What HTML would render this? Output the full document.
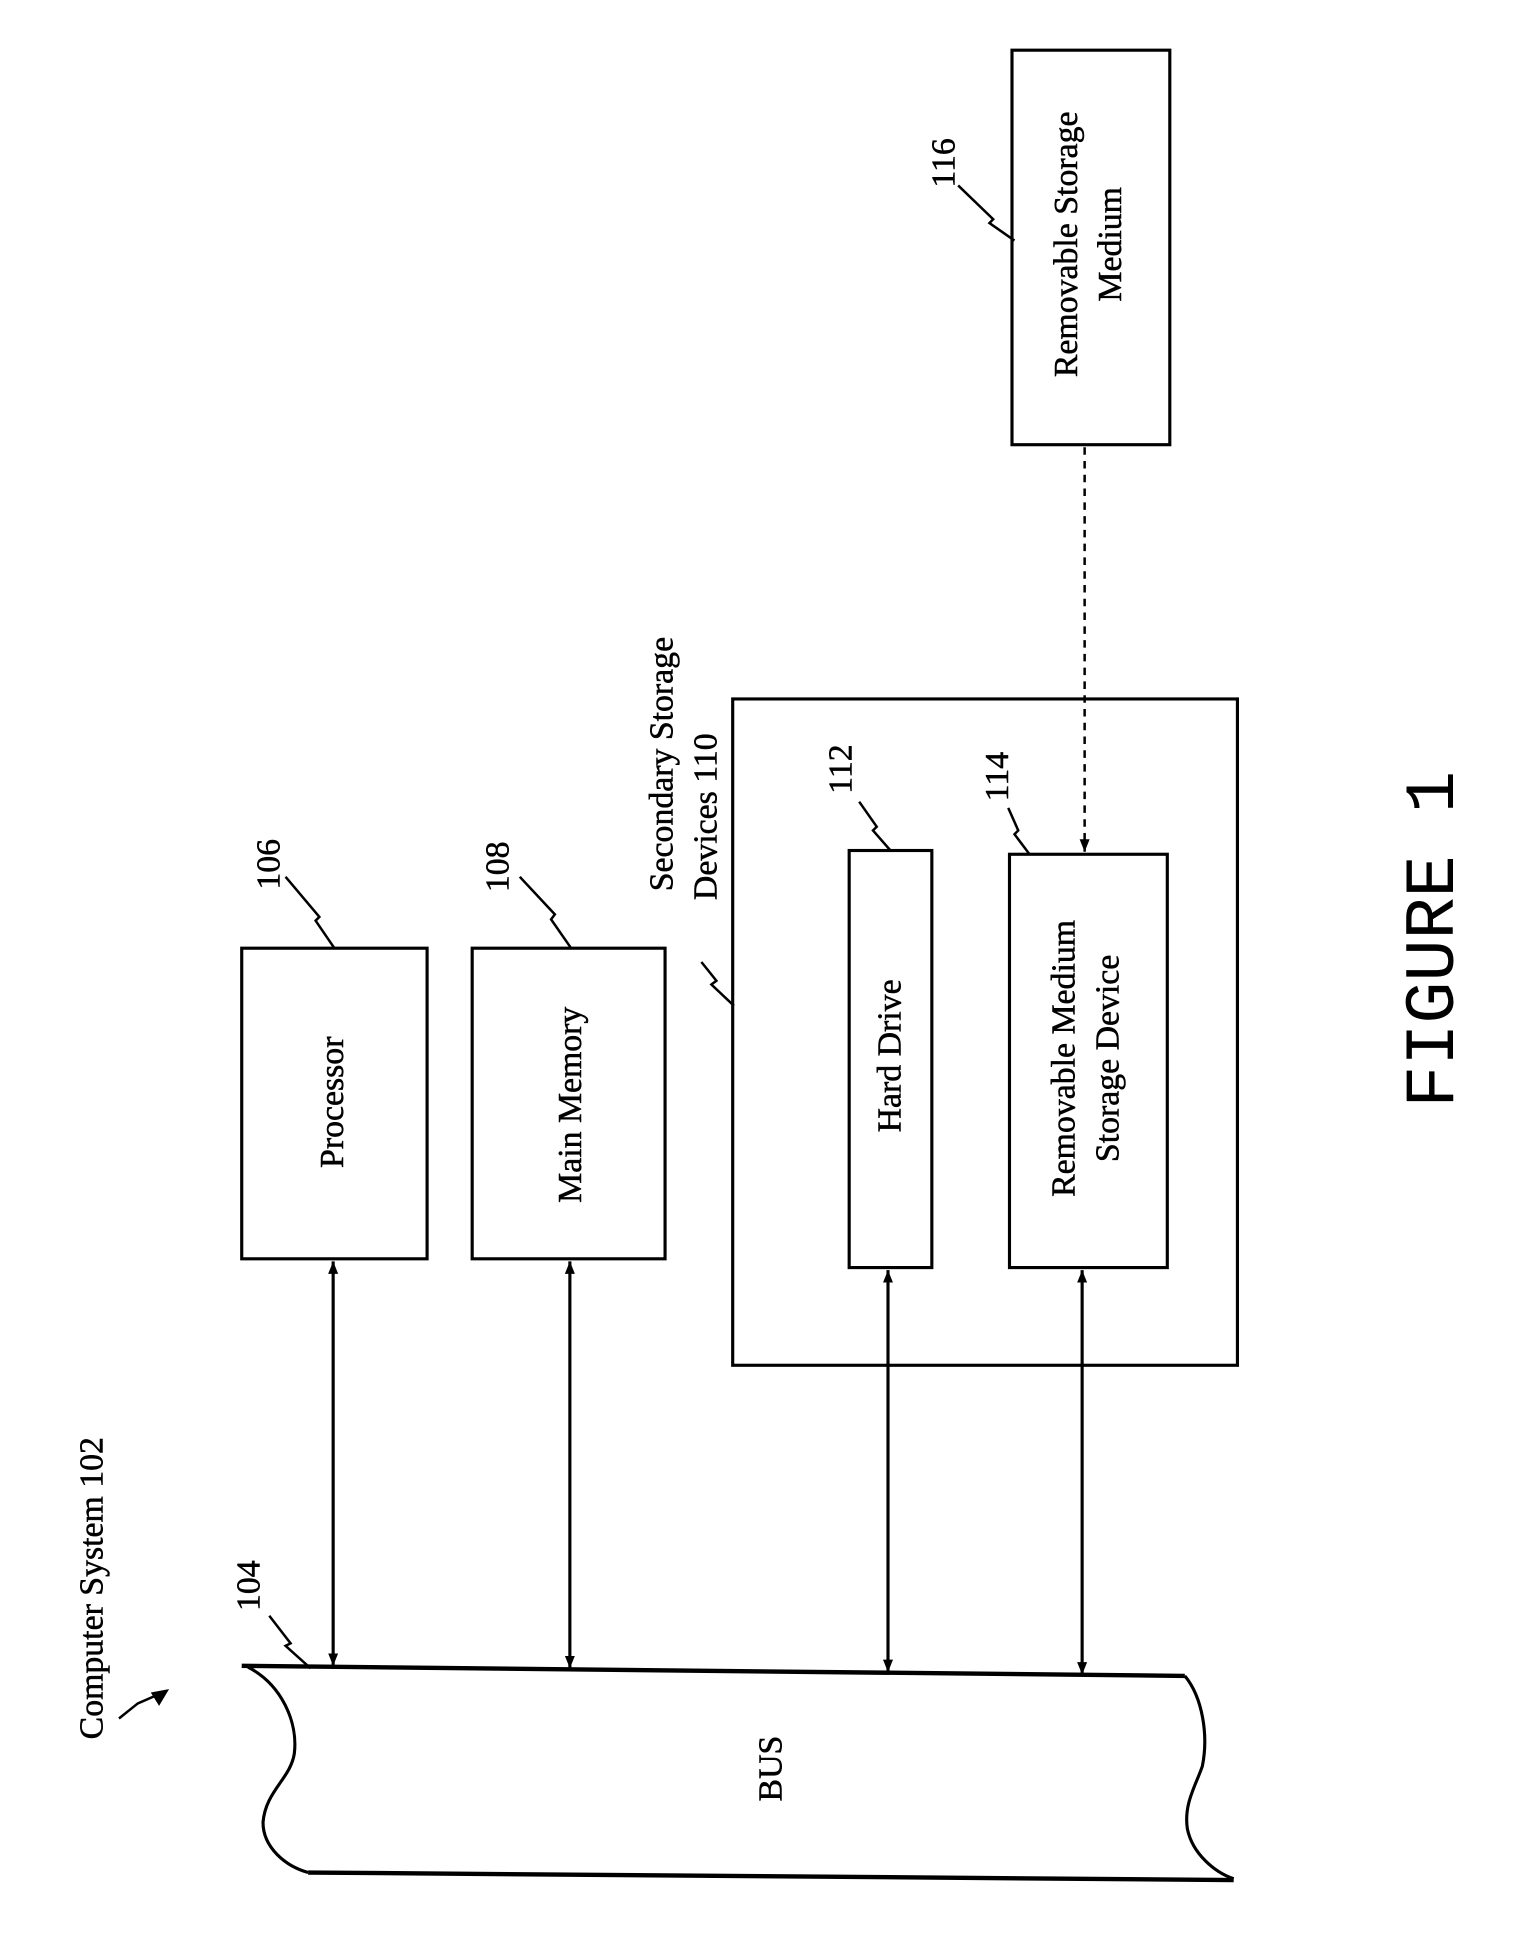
<!DOCTYPE html>
<html><head><meta charset="utf-8"><style>html,body{margin:0;padding:0;background:#fff}svg{display:block}</style></head>
<body>
<svg width="1523" height="1949" viewBox="0 0 1216 1556" xmlns="http://www.w3.org/2000/svg" font-family="Liberation Serif, serif" fill="none" stroke="#000">
<defs>
<marker id="a" viewBox="0 0 10 10" refX="10" refY="5" markerWidth="10" markerHeight="10" orient="auto-start-reverse" markerUnits="userSpaceOnUse"><path d="M0,1 L10,5 L0,9 Z" fill="#000" stroke="none"/></marker>
</defs>
<g stroke-width="2.5">
<rect x="193" y="757" width="148" height="248"/>
<rect x="377" y="757" width="154" height="248"/>
<rect x="585" y="558" width="403" height="532"/>
<rect x="678" y="679" width="66" height="333"/>
<rect x="806" y="682" width="126" height="330"/>
<rect x="808" y="40" width="126" height="315"/>
</g>
<line x1="866" y1="357" x2="866" y2="680" stroke-width="2" stroke-dasharray="6,5" marker-end="url(#a)"/>
<g stroke-width="2.5" marker-start="url(#a)" marker-end="url(#a)">
<line x1="266" y1="1007" x2="266" y2="1330"/>
<line x1="455" y1="1007" x2="455" y2="1332"/>
<line x1="709" y1="1014" x2="709" y2="1335"/>
<line x1="864" y1="1014" x2="864" y2="1337"/>
</g>
<g stroke-width="3.5">
<line x1="193" y1="1330" x2="946" y2="1338"/>
<line x1="246" y1="1495" x2="985" y2="1501"/>
</g>
<path d="M198,1331 C225,1345 238,1375 235,1400 C232,1420 212,1430 210,1455 C210,1475 228,1490 246,1495" stroke-width="2.5"/>
<path d="M946,1338 C960,1355 965,1385 960,1410 C955,1425 945,1440 948,1460 C952,1480 970,1495 985,1500" stroke-width="2.5"/>
<g stroke-width="2">
<polyline points="95,1372 110,1360 133,1350"/>
<path d="M133,1350 L122,1352 L127,1360 Z" fill="#000"/>
<polyline points="215,1290 232,1312 228,1314 248,1332"/>
<polyline points="228,700 255,732 252,735 267,757"/>
<polyline points="415,700 443,730 440,734 456,757"/>
<polyline points="560,768 572,783 568,786 586,803"/>
<polyline points="686,640 700,660 697,663 711,679"/>
<polyline points="805,645 813,663 810,666 822,682"/>
<polyline points="765,148 793,175 790,178 810,192"/>
</g>
<g fill="#000" stroke="#000" stroke-width="0.4" font-size="27">
<text transform="translate(274,880) rotate(-90)" text-anchor="middle">Processor</text>
<text transform="translate(464,882) rotate(-90)" text-anchor="middle">Main Memory</text>
<text transform="translate(719,843) rotate(-90)" text-anchor="middle">Hard Drive</text>
<text transform="translate(858,845) rotate(-90)" text-anchor="middle">Removable Medium</text>
<text transform="translate(893,845) rotate(-90)" text-anchor="middle">Storage Device</text>
<text transform="translate(860,195) rotate(-90)" text-anchor="middle">Removable Storage</text>
<text transform="translate(895,195) rotate(-90)" text-anchor="middle">Medium</text>
<text transform="translate(624,1412) rotate(-90)" text-anchor="middle">BUS</text>
<text transform="translate(82,1268) rotate(-90)" text-anchor="middle">Computer System 102</text>
<text transform="translate(537,610) rotate(-90)" text-anchor="middle">Secondary Storage</text>
<text transform="translate(572,652) rotate(-90)" text-anchor="middle">Devices 110</text>
<text transform="translate(207,1266) rotate(-90)" text-anchor="middle">104</text>
<text transform="translate(223,690) rotate(-90)" text-anchor="middle">106</text>
<text transform="translate(406,692) rotate(-90)" text-anchor="middle">108</text>
<text transform="translate(680,614) rotate(-90)" text-anchor="middle">112</text>
<text transform="translate(805,620) rotate(-90)" text-anchor="middle">114</text>
<text transform="translate(762,130) rotate(-90)" text-anchor="middle">116</text>
<text transform="translate(1160,750) rotate(-90)" text-anchor="middle" font-family="Liberation Mono, monospace" font-size="56" stroke-width="0">FIGURE 1</text>
</g>
</svg>
</body></html>
